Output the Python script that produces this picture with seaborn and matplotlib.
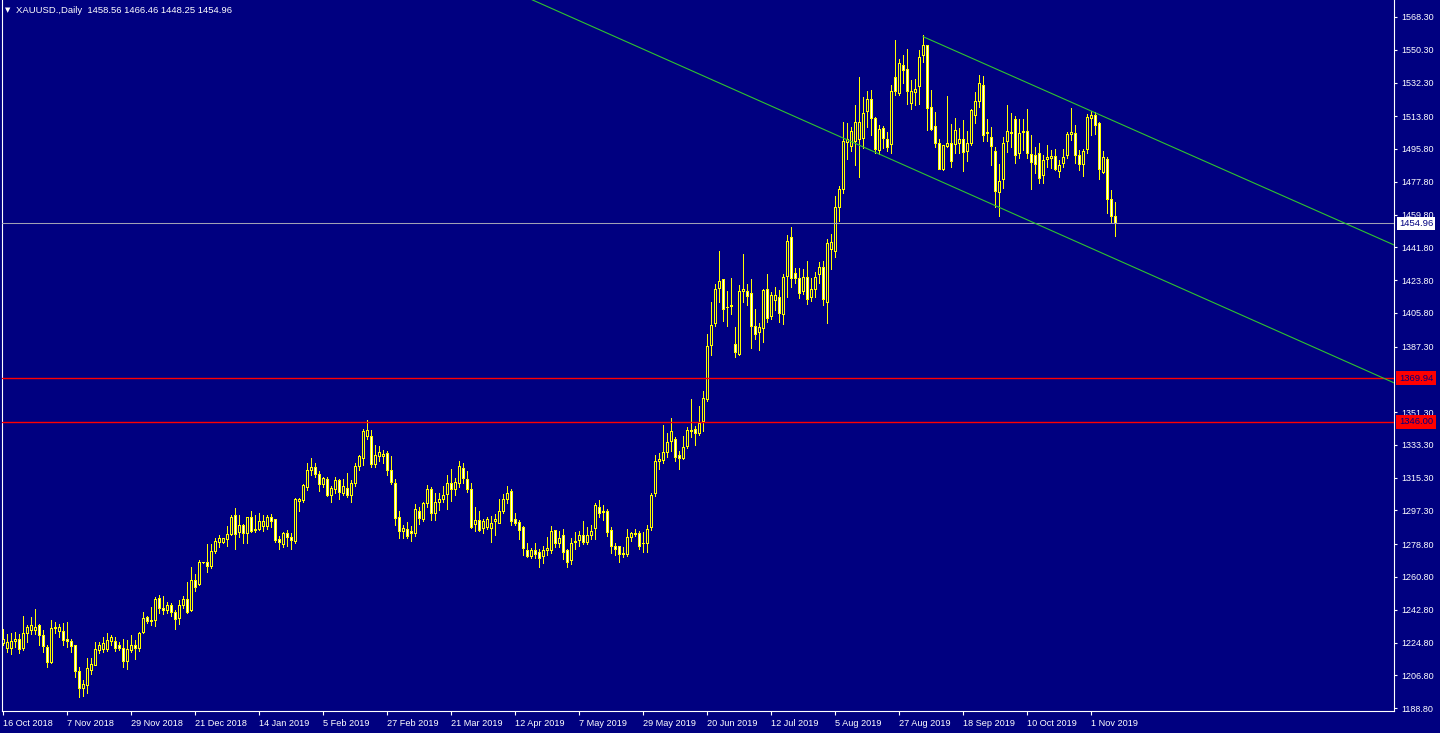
import matplotlib
matplotlib.use("Agg")
import matplotlib.pyplot as plt
import matplotlib.transforms as mtransforms
import seaborn as sns
from pandas import DataFrame

# daily XAUUSD bars (open, high, low, close)
opens = [
    1224.4, 1221.4, 1221.4, 1225.1, 1226.2, 1221.4, 1229.8, 1231.3, 1231.3, 1233.9,
    1228.7, 1222.2, 1213.7, 1233.1, 1230.6, 1230.9, 1226.2, 1225.4, 1222.9, 1208.8,
    1199.5, 1201.1, 1209.7, 1212.3, 1220.3, 1220.7, 1221.1, 1225.1, 1225.4, 1222.9,
    1221.6, 1214.5, 1220.3, 1223.2, 1221.4, 1230.2, 1238.3, 1236.1, 1236.8, 1249.2,
    1243.6, 1242.3, 1244.9, 1241.5, 1237.9, 1244.9, 1248.5, 1242.3, 1259.1, 1256.6,
    1268.8, 1269.0, 1266.4, 1274.9, 1279.6, 1279.6, 1281.5, 1284.0, 1294.3, 1285.1,
    1288.8, 1284.4, 1293.2, 1286.9, 1286.6, 1288.4, 1288.4, 1293.2, 1292.1, 1281.1,
    1278.5, 1284.7, 1282.5, 1280.0, 1302.0, 1302.7, 1310.0, 1319.2, 1321.0, 1317.3,
    1311.5, 1314.4, 1305.6, 1308.6, 1314.0, 1306.7, 1309.6, 1305.6, 1312.2, 1321.4,
    1325.8, 1337.8, 1337.8, 1322.8, 1326.9, 1326.9, 1328.7, 1319.5, 1312.2, 1293.2,
    1285.5, 1287.0, 1285.8, 1284.4, 1296.5, 1292.1, 1300.9, 1308.9, 1295.7, 1301.6,
    1303.1, 1306.0, 1312.2, 1308.9, 1312.2, 1320.5, 1314.4, 1308.6, 1289.5, 1291.7,
    1287.3, 1287.7, 1287.3, 1291.3, 1290.3, 1296.5, 1303.1, 1307.8, 1292.4, 1290.9,
    1287.7, 1275.6, 1271.9, 1275.6, 1274.1, 1271.9, 1275.6, 1275.6, 1286.2, 1279.3,
    1283.3, 1275.6, 1269.7, 1279.6, 1280.7, 1283.6, 1279.6, 1283.3, 1287.3, 1298.7,
    1296.5, 1296.5, 1286.2, 1277.4, 1277.4, 1273.0, 1273.0, 1282.6, 1284.0, 1284.7,
    1279.3, 1278.9, 1287.7, 1306.4, 1324.3, 1324.7, 1329.4, 1335.3, 1336.4, 1327.6,
    1326.1, 1332.7, 1340.4, 1341.9, 1339.7, 1346.3, 1358.3, 1388.0, 1399.7, 1419.1,
    1423.9, 1408.9, 1409.2, 1388.7, 1383.2, 1417.6, 1417.6, 1416.2, 1398.2, 1394.9,
    1397.2, 1418.7, 1403.7, 1412.5, 1414.0, 1404.8, 1425.7, 1447.3, 1427.5, 1424.6,
    1417.3, 1425.3, 1414.4, 1418.7, 1426.8, 1430.8, 1411.4, 1440.7, 1439.6, 1463.8,
    1473.7, 1499.6, 1497.1, 1500.0, 1500.8, 1501.5, 1516.5, 1522.7, 1512.8, 1494.9,
    1507.3, 1501.1, 1498.2, 1534.8, 1526.4, 1541.8, 1539.2, 1520.5, 1526.8, 1530.0,
    1547.3, 1552.4, 1518.3, 1508.4, 1498.6, 1484.6, 1497.1, 1498.9, 1498.2, 1498.9,
    1501.1, 1494.2, 1498.9, 1514.3, 1522.0, 1530.8, 1504.4, 1502.2, 1494.5, 1471.8,
    1479.1, 1499.7, 1504.4, 1512.1, 1493.4, 1504.8, 1505.5, 1492.7, 1492.3, 1493.4,
    1481.4, 1489.8, 1490.5, 1491.9, 1483.6, 1487.6, 1492.3, 1503.7, 1504.4, 1492.3,
    1487.2, 1495.3, 1512.5, 1514.3, 1509.9, 1482.8, 1490.1, 1468.2, 1458.56,
]
highs = [
    1232.0, 1229.5, 1230.2, 1230.6, 1229.5, 1239.4, 1234.6, 1238.6, 1243.4, 1235.0,
    1231.7, 1223.4, 1237.2, 1236.1, 1235.0, 1235.3, 1236.1, 1226.5, 1223.4, 1211.5,
    1204.2, 1216.1, 1216.1, 1225.3, 1225.1, 1228.0, 1230.2, 1228.7, 1228.0, 1225.1,
    1226.9, 1226.2, 1228.7, 1226.2, 1230.6, 1241.6, 1239.4, 1244.1, 1250.0, 1250.7,
    1250.3, 1246.9, 1246.3, 1242.6, 1248.1, 1250.3, 1258.0, 1266.4, 1262.4, 1270.1,
    1269.2, 1278.9, 1278.9, 1282.0, 1283.8, 1282.2, 1288.8, 1294.8, 1298.7, 1294.8,
    1289.9, 1293.5, 1297.2, 1294.8, 1296.1, 1294.8, 1295.0, 1295.4, 1292.4, 1283.3,
    1285.5, 1286.6, 1285.1, 1304.0, 1304.2, 1311.8, 1323.2, 1325.9, 1323.2, 1318.8,
    1315.9, 1315.9, 1310.7, 1315.5, 1314.4, 1314.4, 1317.7, 1314.0, 1323.2, 1328.0,
    1341.9, 1347.0, 1341.5, 1333.1, 1332.7, 1330.5, 1329.8, 1327.2, 1314.8, 1297.2,
    1289.1, 1291.0, 1288.8, 1300.9, 1299.4, 1302.0, 1311.1, 1310.0, 1306.7, 1306.7,
    1310.7, 1316.6, 1320.3, 1315.1, 1324.3, 1323.2, 1318.8, 1312.2, 1299.4, 1296.8,
    1292.8, 1293.9, 1294.3, 1295.4, 1303.4, 1306.4, 1310.7, 1308.9, 1295.7, 1292.1,
    1288.8, 1279.3, 1276.7, 1279.3, 1276.0, 1277.8, 1282.6, 1288.8, 1286.6, 1285.8,
    1286.9, 1276.0, 1282.2, 1285.5, 1285.8, 1291.3, 1288.0, 1289.1, 1301.2, 1303.1,
    1300.5, 1298.3, 1288.4, 1279.3, 1277.8, 1277.4, 1287.3, 1285.5, 1287.3, 1285.8,
    1285.5, 1289.1, 1306.7, 1327.6, 1328.7, 1344.3, 1339.7, 1348.1, 1337.5, 1329.8,
    1338.2, 1343.3, 1358.3, 1343.7, 1354.7, 1362.7, 1394.2, 1411.8, 1421.7, 1439.6,
    1424.2, 1417.6, 1425.0, 1398.2, 1420.9, 1438.1, 1421.7, 1424.2, 1408.1, 1400.1,
    1419.1, 1427.2, 1417.3, 1420.2, 1418.4, 1427.2, 1448.8, 1453.2, 1430.5, 1430.5,
    1430.1, 1434.1, 1425.0, 1428.3, 1433.8, 1434.1, 1446.2, 1449.1, 1470.0, 1475.5,
    1510.6, 1509.9, 1508.1, 1519.8, 1535.5, 1524.6, 1527.5, 1528.2, 1513.6, 1508.8,
    1508.4, 1505.2, 1531.1, 1555.7, 1545.4, 1547.6, 1550.9, 1533.7, 1534.1, 1550.2,
    1558.2, 1552.7, 1528.2, 1516.1, 1501.1, 1497.8, 1524.9, 1509.5, 1512.8, 1507.3,
    1511.7, 1505.5, 1517.9, 1527.1, 1536.6, 1535.9, 1512.5, 1507.7, 1497.1, 1487.6,
    1502.6, 1519.8, 1515.8, 1513.9, 1512.5, 1512.5, 1517.6, 1503.3, 1497.1, 1498.9,
    1492.7, 1497.8, 1495.3, 1495.6, 1489.8, 1496.0, 1505.2, 1518.3, 1509.2, 1495.3,
    1495.6, 1515.0, 1516.5, 1516.1, 1510.6, 1494.9, 1491.6, 1473.3, 1466.46,
]
lows = [
    1223.4, 1219.8, 1218.3, 1222.5, 1219.2, 1220.7, 1225.1, 1229.5, 1229.5, 1223.4,
    1219.4, 1211.5, 1213.7, 1229.8, 1228.0, 1223.4, 1222.5, 1219.8, 1206.0, 1194.7,
    1195.4, 1196.9, 1207.5, 1212.3, 1218.9, 1219.6, 1220.0, 1223.4, 1220.3, 1220.7,
    1211.2, 1210.4, 1219.6, 1215.9, 1220.3, 1229.8, 1235.3, 1234.2, 1233.9, 1240.8,
    1240.5, 1240.8, 1239.4, 1232.4, 1234.9, 1243.6, 1241.2, 1242.3, 1253.3, 1256.6,
    1268.5, 1263.7, 1265.7, 1273.8, 1277.1, 1279.4, 1277.8, 1284.0, 1276.3, 1282.9,
    1279.3, 1279.6, 1285.5, 1285.5, 1286.6, 1286.2, 1287.3, 1288.0, 1280.0, 1276.3,
    1277.1, 1277.8, 1276.3, 1279.6, 1297.2, 1302.0, 1308.5, 1317.0, 1315.9, 1308.2,
    1310.4, 1305.3, 1302.1, 1306.7, 1303.4, 1305.6, 1304.5, 1302.1, 1310.7, 1319.5,
    1322.3, 1336.7, 1321.0, 1321.4, 1324.7, 1323.2, 1316.6, 1311.8, 1289.5, 1282.4,
    1282.4, 1282.4, 1280.4, 1283.3, 1289.9, 1291.3, 1299.4, 1292.1, 1292.1, 1297.6,
    1302.0, 1298.3, 1302.7, 1306.0, 1310.4, 1312.2, 1307.4, 1287.7, 1286.2, 1286.2,
    1285.1, 1287.3, 1280.0, 1284.0, 1290.3, 1295.7, 1301.2, 1289.1, 1289.5, 1281.8,
    1272.7, 1271.9, 1271.2, 1271.2, 1266.1, 1268.3, 1272.7, 1273.8, 1277.4, 1277.4,
    1270.8, 1266.1, 1267.9, 1276.3, 1277.8, 1278.9, 1278.9, 1281.5, 1281.5, 1293.5,
    1292.1, 1283.3, 1274.1, 1272.7, 1269.0, 1271.6, 1272.3, 1280.4, 1283.3, 1276.0,
    1274.5, 1274.5, 1286.6, 1305.3, 1319.9, 1323.6, 1326.9, 1330.2, 1324.7, 1319.9,
    1325.8, 1331.6, 1337.8, 1333.1, 1338.6, 1341.1, 1357.6, 1382.5, 1398.6, 1411.8,
    1401.5, 1398.6, 1405.2, 1381.8, 1382.9, 1411.8, 1410.3, 1386.5, 1391.7, 1385.4,
    1389.8, 1400.8, 1402.6, 1407.4, 1400.8, 1399.7, 1414.7, 1419.8, 1422.0, 1414.0,
    1416.2, 1410.7, 1412.5, 1414.7, 1422.4, 1410.3, 1400.4, 1430.1, 1436.7, 1456.5,
    1471.8, 1490.1, 1494.9, 1487.2, 1480.3, 1496.4, 1508.1, 1503.7, 1493.4, 1493.1,
    1496.4, 1494.5, 1493.4, 1525.3, 1525.3, 1532.2, 1520.5, 1517.6, 1519.8, 1520.5,
    1543.6, 1506.2, 1506.2, 1497.1, 1484.6, 1484.3, 1497.1, 1485.7, 1493.4, 1493.4,
    1483.6, 1489.0, 1498.2, 1510.3, 1519.1, 1500.4, 1500.4, 1487.2, 1464.2, 1459.0,
    1474.4, 1494.2, 1497.1, 1488.3, 1490.9, 1495.3, 1490.9, 1474.0, 1482.5, 1477.0,
    1477.0, 1486.1, 1485.4, 1484.3, 1480.6, 1486.1, 1490.9, 1500.8, 1488.3, 1484.3,
    1481.0, 1493.8, 1503.7, 1504.0, 1479.5, 1482.4, 1460.8, 1455.4, 1448.25,
]
closes = [
    1226.5, 1224.7, 1225.4, 1226.2, 1221.1, 1229.8, 1233.1, 1233.9, 1233.1, 1228.6,
    1222.5, 1213.7, 1232.6, 1232.4, 1232.8, 1225.8, 1225.1, 1222.5, 1208.8, 1199.5,
    1201.5, 1210.3, 1213.0, 1221.1, 1223.2, 1224.0, 1225.8, 1227.3, 1221.4, 1221.4,
    1214.5, 1220.7, 1223.2, 1221.4, 1229.8, 1237.9, 1236.1, 1236.8, 1248.2, 1243.4,
    1242.3, 1244.9, 1241.2, 1237.2, 1245.2, 1248.5, 1241.5, 1259.1, 1255.1, 1269.0,
    1268.8, 1266.4, 1274.9, 1280.4, 1282.0, 1282.0, 1284.2, 1293.5, 1284.0, 1288.8,
    1284.4, 1293.2, 1285.5, 1286.2, 1291.0, 1291.0, 1293.2, 1291.0, 1280.7, 1279.6,
    1284.7, 1282.2, 1280.7, 1303.1, 1303.1, 1311.1, 1319.5, 1321.0, 1317.3, 1311.5,
    1315.1, 1305.8, 1309.3, 1314.0, 1307.1, 1310.7, 1305.3, 1312.2, 1321.7, 1326.9,
    1340.4, 1341.0, 1322.8, 1327.6, 1329.4, 1328.3, 1319.2, 1312.6, 1292.8, 1285.7,
    1287.5, 1282.9, 1284.4, 1297.9, 1292.8, 1300.9, 1308.9, 1295.4, 1301.6, 1303.4,
    1305.6, 1312.2, 1308.6, 1312.6, 1321.4, 1315.1, 1308.6, 1288.0, 1291.7, 1286.2,
    1291.3, 1292.1, 1290.3, 1292.4, 1296.8, 1303.1, 1306.7, 1291.3, 1290.3, 1286.2,
    1276.3, 1271.9, 1275.2, 1273.0, 1270.8, 1275.6, 1276.7, 1285.8, 1279.3, 1281.8,
    1274.1, 1269.0, 1278.9, 1280.0, 1283.6, 1279.6, 1283.3, 1285.5, 1299.8, 1295.4,
    1296.1, 1285.1, 1277.4, 1276.0, 1273.0, 1273.8, 1282.2, 1284.7, 1284.7, 1277.4,
    1278.9, 1286.9, 1305.3, 1324.3, 1325.4, 1329.1, 1334.5, 1340.4, 1326.5, 1325.8,
    1332.0, 1341.1, 1341.1, 1339.7, 1345.2, 1358.7, 1387.6, 1399.0, 1418.7, 1423.1,
    1407.8, 1408.9, 1410.0, 1384.0, 1417.6, 1418.4, 1414.7, 1398.2, 1393.8, 1397.5,
    1418.0, 1402.6, 1415.1, 1415.4, 1405.6, 1425.3, 1445.1, 1424.6, 1424.6, 1416.2,
    1425.3, 1413.3, 1418.7, 1425.3, 1430.8, 1413.3, 1444.0, 1444.7, 1463.8, 1473.7,
    1500.0, 1501.1, 1505.2, 1510.6, 1510.6, 1515.4, 1522.7, 1512.5, 1495.3, 1506.6,
    1501.5, 1496.7, 1527.1, 1527.1, 1542.9, 1538.8, 1527.1, 1527.1, 1528.6, 1546.2,
    1552.7, 1518.0, 1506.6, 1498.6, 1484.6, 1497.5, 1498.6, 1489.0, 1506.2, 1501.1,
    1493.8, 1498.9, 1517.2, 1522.0, 1531.9, 1503.3, 1505.0, 1497.1, 1472.2, 1478.0,
    1498.6, 1505.2, 1505.1, 1492.3, 1504.4, 1505.5, 1493.4, 1488.3, 1487.2, 1479.5,
    1489.4, 1491.2, 1491.6, 1484.7, 1486.8, 1491.2, 1504.0, 1504.8, 1492.3, 1487.2,
    1494.5, 1513.2, 1514.3, 1508.8, 1484.7, 1491.2, 1468.2, 1458.6, 1454.96,
]

date_labels = [
    "16 Oct 2018", "7 Nov 2018", "29 Nov 2018", "21 Dec 2018", "14 Jan 2019",
    "5 Feb 2019", "27 Feb 2019", "21 Mar 2019", "12 Apr 2019", "7 May 2019",
    "29 May 2019", "20 Jun 2019", "12 Jul 2019", "5 Aug 2019", "27 Aug 2019",
    "18 Sep 2019", "10 Oct 2019", "1 Nov 2019",
]
# 1369.30 sits under the red 1369.94 label, so it is not listed
price_ticks = [
    1568.30, 1550.30, 1532.30, 1513.80, 1495.80, 1477.80, 1459.80, 1441.80,
    1423.80, 1405.80, 1387.30, 1351.30, 1333.30, 1315.30, 1297.30,
    1278.80, 1260.80, 1242.80, 1224.80, 1206.80, 1188.80,
]
red_levels = [1369.94, 1346.00]
bid_price = 1454.96

# channel lines: (bar index, price) end points
channel_low_x = [120.0, 347.75]
channel_low_y = [1589.7, 1367.4]
channel_high_x = [230.0, 347.75]
channel_high_y = [1557.5, 1443.1]

NAVY = "#000080"
YELLOW = "#FFFF00"

sns.set_style("dark")
plt.rcParams["font.family"] = ["Liberation Sans", "DejaVu Sans"]

W, H = 1440, 733
Y_LO, Y_HI = 1187.2, 1577.6
PX = (Y_HI - Y_LO) / 711  # price per pixel

fig = plt.figure(figsize=(W / 100, H / 100), dpi=100, facecolor=NAVY)
ax = fig.add_axes([2 / W, 22 / H, 1392 / W, 711 / H])
ax.set_facecolor(NAVY)

bars = DataFrame({"open": opens, "high": highs, "low": lows, "close": closes})
bars["x"] = range(len(bars))
bars["bottom"] = bars[["open", "close"]].min(axis=1)
bars["top"] = bars[["open", "close"]].max(axis=1)
bars["fill"] = ["white" if c < o else NAVY for o, c in zip(bars["open"], bars["close"])]

# wicks
ax.vlines(bars["x"], bars["low"], bars["high"], color=YELLOW, lw=0.72,
          antialiased=False, zorder=2)
# body outline: solid yellow block, then the inner fill on top
ax.bar(bars["x"], bars["top"] - bars["bottom"] + PX, bottom=bars["bottom"] - PX / 2,
       width=0.75, color=YELLOW, linewidth=0, antialiased=False, zorder=2.1)
inner = bars[(bars["top"] - bars["bottom"]) > 1.2 * PX]
ax.bar(inner["x"], inner["top"] - inner["bottom"] - PX, bottom=inner["bottom"] + PX / 2,
       width=0.25, color=inner["fill"], linewidth=0, antialiased=False, zorder=2.2)

for lvl in red_levels:
    ax.axhline(lvl, color="#FF0000", lw=1.0, zorder=3)
ax.axhline(bid_price, color="#A0A0B4", lw=0.75, zorder=3)

chan = DataFrame({
    "x": channel_low_x + channel_high_x,
    "y": channel_low_y + channel_high_y,
    "line": ["low", "low", "high", "high"],
})
sns.lineplot(data=chan, x="x", y="y", units="line", estimator=None,
             color="#2FC42F", lw=0.8, ax=ax, legend=False, zorder=3)

ax.set_xlim(-0.25, 347.75)
ax.set_ylim(Y_LO, Y_HI)
ax.set_xlabel("")
ax.set_ylabel("")
ax.grid(False)

for side in ["left", "bottom", "right"]:
    ax.spines[side].set_visible(True)
    ax.spines[side].set_color("white")
    ax.spines[side].set_linewidth(0.8)
ax.spines["top"].set_visible(False)

ax.yaxis.tick_right()
ax.set_yticks(price_ticks)
ax.set_yticklabels([f"{v:.2f}" for v in price_ticks])
ax.set_xticks([16 * i for i in range(len(date_labels))])
ax.set_xticklabels(date_labels)
for lab in ax.get_xticklabels():
    lab.set_ha("left")
ax.tick_params(axis="y", colors="white", labelsize=6.5, length=2.5, width=0.8,
               pad=3, right=True, left=False)
ax.tick_params(axis="x", colors="white", labelsize=6.6, length=3, width=0.8,
               pad=2.5, bottom=True)

# price labels on the scale
trans = mtransforms.blended_transform_factory(ax.transAxes, ax.transData)
for lvl in red_levels:
    ax.text(1.0035, lvl, f"{lvl:.2f}", transform=trans, color=NAVY, fontsize=6.8,
            va="center", ha="left", clip_on=False, zorder=10,
            bbox=dict(boxstyle="square,pad=0.28", fc="#FF0000", ec="none"))
ax.text(1.0035, bid_price, f"{bid_price:.2f}", transform=trans, color=NAVY,
        fontsize=6.8, va="center", ha="left", clip_on=False, zorder=10,
        bbox=dict(boxstyle="square,pad=0.2", fc="white", ec="none"))

title = f"XAUUSD.,Daily  {opens[-1]:.2f} {highs[-1]:.2f} {lows[-1]:.2f} {closes[-1]:.2f}"
fig.text(5 / W, 1 - 10.5 / H, "\u25bc", color="white", fontsize=5,
         va="center", ha="left", family=["DejaVu Sans"])
fig.text(16 / W, 1 - 10.5 / H, title, color="white", fontsize=6.8,
         va="center", ha="left")

fig.savefig("out.png", dpi=100, facecolor=NAVY)
